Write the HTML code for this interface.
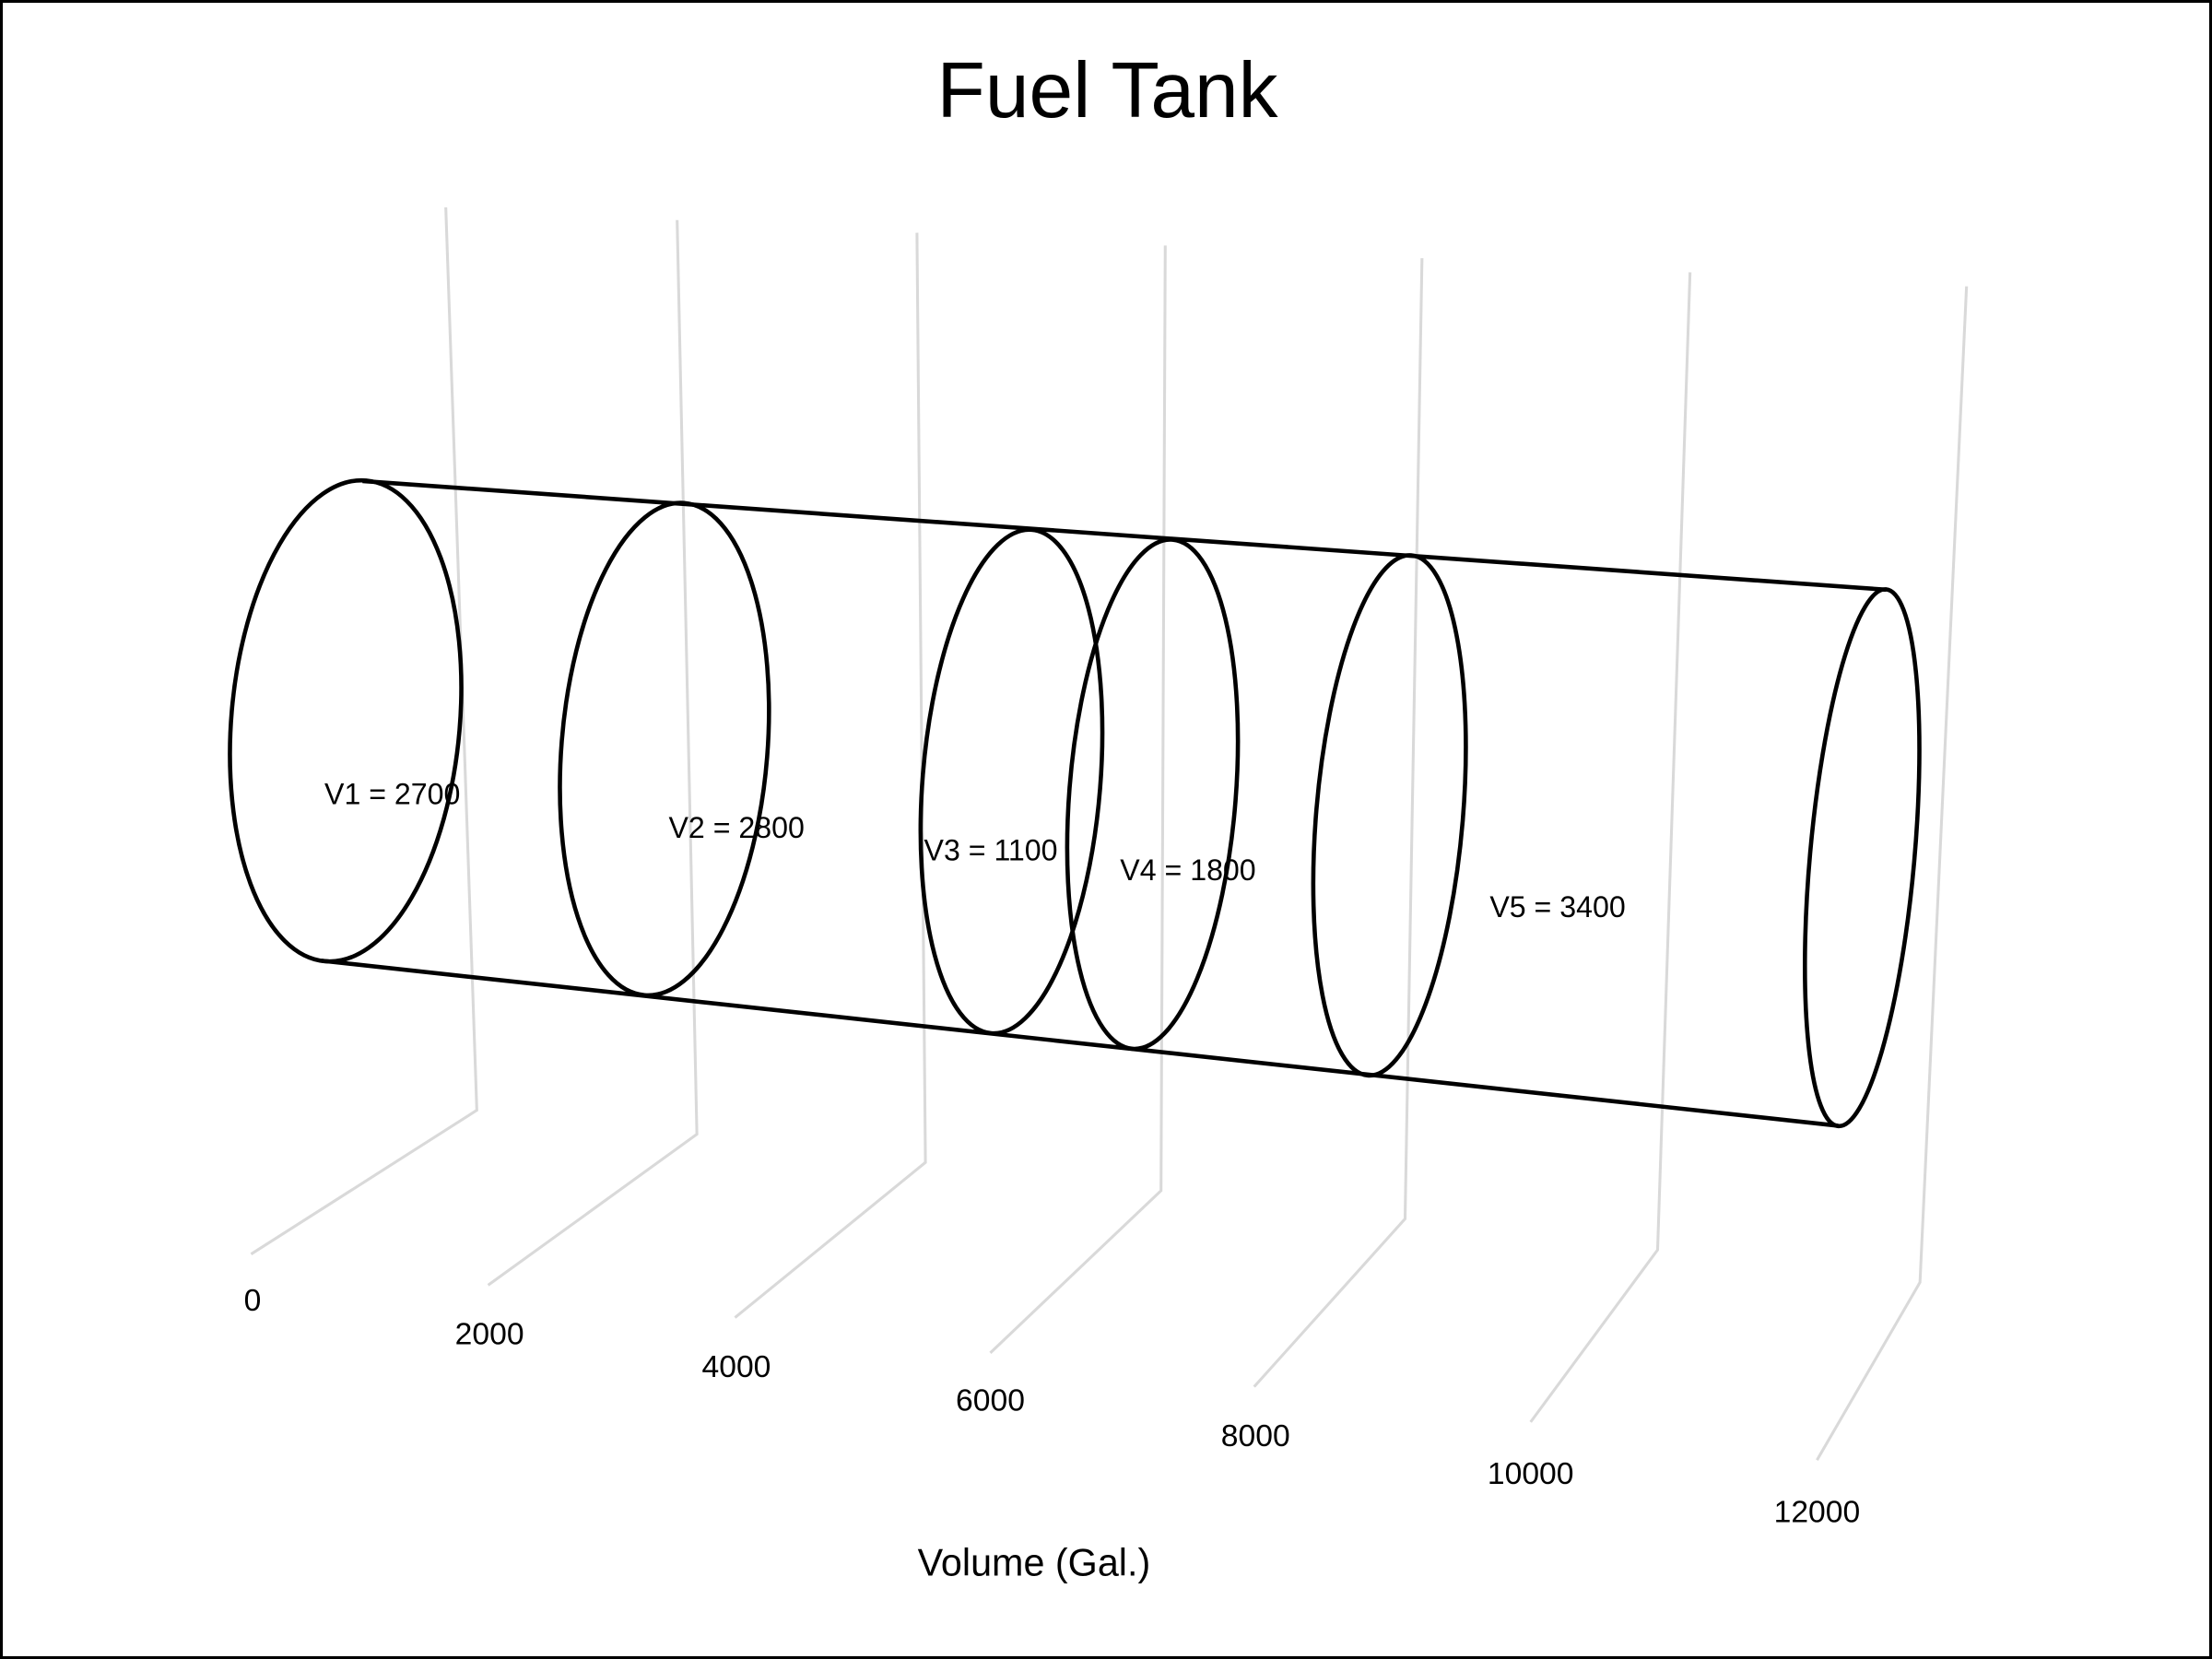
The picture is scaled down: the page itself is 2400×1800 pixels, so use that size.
<!DOCTYPE html>
<html><head><meta charset="utf-8"><style>
html,body{margin:0;padding:0;background:#fff;}
svg{display:block;}
text{font-family:"Liberation Sans",sans-serif;fill:#000;}
</style></head><body>
<svg width="2400" height="1800" viewBox="0 0 1568 1176" xmlns="http://www.w3.org/2000/svg">
<rect x="0" y="0" width="1568" height="1176" fill="#fff"/>
<rect x="1" y="1" width="1566" height="1174" fill="none" stroke="#000" stroke-width="2"/>
<text x="785" y="83" font-size="56" text-anchor="middle">Fuel Tank</text>
<g fill="none" stroke="#d9d9d9" stroke-width="2">
<polyline points="316,147 338,787 178,889"/>
<polyline points="480,156 494,804 346,911"/>
<polyline points="650,165 656,824 521,934"/>
<polyline points="826,174 823,844 702,959"/>
<polyline points="1008,183 996,864 889,983"/>
<polyline points="1198,193 1175,886 1085,1008"/>
<polyline points="1394,203 1361,909 1288,1035"/>
</g>
<g font-size="22" text-anchor="middle">
<text x="179" y="929">0</text>
<text x="347" y="953">2000</text>
<text x="522" y="976">4000</text>
<text x="702" y="1000">6000</text>
<text x="890" y="1025">8000</text>
<text x="1085" y="1052">10000</text>
<text x="1288" y="1079">12000</text>
</g>
<text x="733" y="1117" font-size="27" text-anchor="middle">Volume (Gal.)</text>
<g fill="none" stroke="#000" stroke-width="3">
<line x1="257" y1="341" x2="1337" y2="418"/>
<line x1="228" y1="681" x2="1303" y2="798"/>
<ellipse cx="245" cy="511" rx="81" ry="171" transform="rotate(4.9 245 511)"/>
<ellipse cx="471" cy="531" rx="73" ry="175" transform="rotate(4.6 471 531)"/>
<ellipse cx="717" cy="554" rx="63" ry="179" transform="rotate(4.6 717 554)"/>
<ellipse cx="817" cy="563" rx="59" ry="181" transform="rotate(4.5 817 563)"/>
<ellipse cx="985" cy="578" rx="52" ry="185" transform="rotate(4.8 985 578)"/>
<ellipse cx="1320" cy="608" rx="37" ry="191" transform="rotate(5.1 1320 608)"/>
</g>
<g font-size="21">
<text x="230" y="570">V1 = 2700</text>
<text x="474" y="594">V2 = 2800</text>
<text x="655" y="610">V3 = 1100</text>
<text x="794" y="624">V4 = 1800</text>
<text x="1056" y="650">V5 = 3400</text>
</g>
</svg>
</body></html>
